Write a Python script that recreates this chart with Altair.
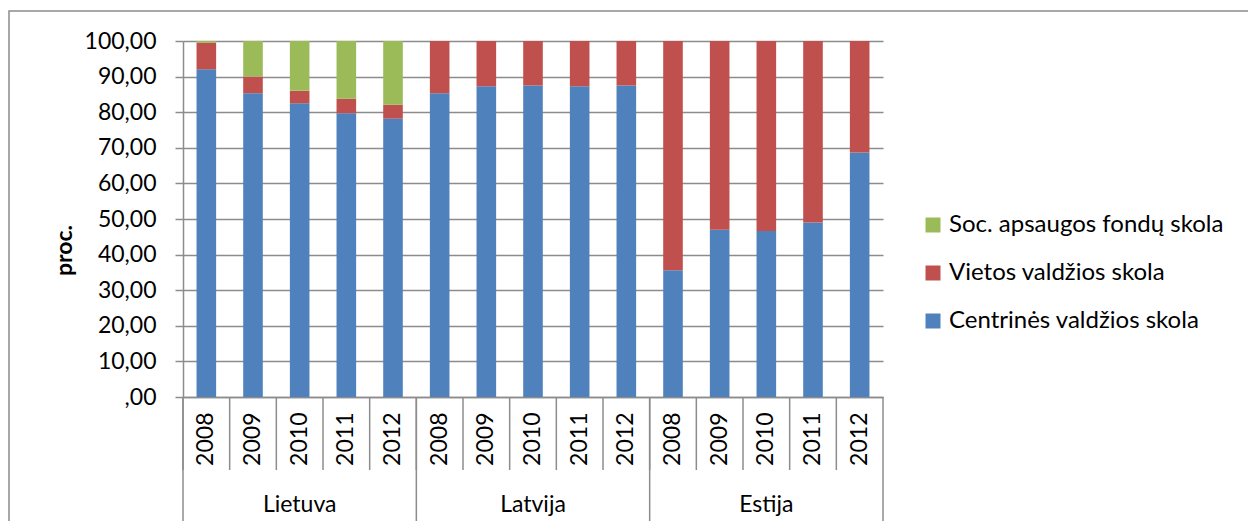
import altair as alt
import pandas as pd

countries = ["Lietuva", "Latvija", "Estija"]
years = ["2008", "2009", "2010", "2011", "2012"]
series = ["Soc. apsaugos fondų skola", "Vietos valdžios skola", "Centrinės valdžios skola"]
colors = ["#9BBB59", "#C0504D", "#4F81BD"]

central = {
    "Lietuva": [92.05, 85.3, 82.5, 79.7, 78.2],
    "Latvija": [85.3, 87.3, 87.5, 87.3, 87.5],
    "Estija": [35.6, 47.0, 46.6, 49.0, 68.7],
}
local = {
    "Lietuva": [7.45, 4.7, 3.5, 4.1, 3.9],
    "Latvija": [14.7, 12.7, 12.5, 12.7, 12.5],
    "Estija": [64.4, 53.0, 53.4, 51.0, 31.3],
}
social = {
    "Lietuva": [0.5, 10.0, 14.0, 16.2, 17.9],
    "Latvija": [0.0, 0.0, 0.0, 0.0, 0.0],
    "Estija": [0.0, 0.0, 0.0, 0.0, 0.0],
}

keys = [f"{c}|{y}" for c in countries for y in years]

rows = []
for c in countries:
    for i, y in enumerate(years):
        k = f"{c}|{y}"
        rows.append({"key": k, "series": series[2], "value": central[c][i], "ord": 0})
        rows.append({"key": k, "series": series[1], "value": local[c][i], "ord": 1})
        rows.append({"key": k, "series": series[0], "value": social[c][i], "ord": 2})
df = pd.DataFrame(rows)

FONT = "Lato"
FS = 23
GRID = "#8c8c8c"

xscale = alt.Scale(domain=keys, paddingInner=0, paddingOuter=0)

bars = alt.Chart(df).mark_bar(width=alt.RelativeBandSize(0.42)).encode(
    x=alt.X("key:N", scale=xscale, sort=keys,
            axis=alt.Axis(title=None, labelAngle=270,
                          labelExpr="split(datum.label, '|')[1]",
                          labelFont=FONT, labelFontSize=FS, labelColor="#000",
                          labelPadding=15, ticks=False,
                          domainColor=GRID, domainWidth=1.5, grid=False)),
    y=alt.Y("value:Q", stack="zero",
            scale=alt.Scale(domain=[0, 100], nice=False),
            axis=alt.Axis(title="proc.", values=list(range(0, 101, 10)),
                          labelExpr="datum.value == 0 ? ',00' : replace(format(datum.value, '.2f'), '.', ',')",
                          labelFont=FONT, labelFontSize=FS, labelColor="#000", labelPadding=19,
                          tickSize=8, tickColor=GRID, tickWidth=1.5,
                          domainColor=GRID, domainWidth=1.5,
                          grid=True, gridColor=GRID, gridWidth=1.5,
                          titleFont=FONT, titleFontSize=FS, titleFontWeight="bold",
                          titleColor="#000", titleAngle=270, titleX=-119, titleY=209,
                          titleAlign="center", titleBaseline="middle")),
    color=alt.Color("series:N", scale=alt.Scale(domain=series, range=colors),
                    legend=alt.Legend(title=None, orient="none", legendX=738, legendY=172,
                                      symbolType="square", symbolSize=225, symbolStrokeWidth=0,
                                      labelFont=FONT, labelFontSize=24, labelColor="#000",
                                      labelLimit=500, rowPadding=24, labelOffset=4)),
    order=alt.Order("ord:Q"),
)

cat = pd.DataFrame({"key": keys})
inner_rules = alt.Chart(cat).mark_rule(color=GRID, strokeWidth=1.5).encode(
    x=alt.X("key:N", scale=xscale, sort=keys, bandPosition=0),
    y=alt.value(356), y2=alt.value(429),
)

grp = pd.DataFrame({"key": [f"{c}|{years[0]}" for c in countries],
                    "country": countries,
                    "mid": [f"{c}|{years[2]}" for c in countries]})

group_rules = alt.Chart(grp).mark_rule(color=GRID, strokeWidth=1.5).encode(
    x=alt.X("key:N", scale=xscale, sort=keys, bandPosition=0),
    y=alt.value(356), y2=alt.value(490),
)
end_rule = alt.Chart(pd.DataFrame({"key": [keys[-1]]})).mark_rule(color=GRID, strokeWidth=1.5).encode(
    x=alt.X("key:N", scale=xscale, sort=keys, bandPosition=1),
    y=alt.value(356), y2=alt.value(490),
)
country_text = alt.Chart(grp).mark_text(font=FONT, fontSize=FS, color="#000", baseline="middle").encode(
    x=alt.X("mid:N", scale=xscale, sort=keys, bandPosition=0.5),
    y=alt.value(464),
    text="country:N",
)
border = alt.Chart(pd.DataFrame({"a": [0]})).mark_rect(fill=None, stroke="#8c8c8c", strokeWidth=1.5).encode(
    x=alt.value(-174), x2=alt.value(1090), y=alt.value(-30), y2=alt.value(510),
)

chart = alt.layer(border, bars, inner_rules, group_rules, end_rule, country_text).properties(
    width=700, height=356,
    autosize=alt.AutoSizeParams(type="none"),
    padding={"left": 175, "top": 33, "right": 365, "bottom": 124},
).configure_view(strokeWidth=0)

chart.save("out.html", embed_options={"renderer": "svg", "actions": False})
